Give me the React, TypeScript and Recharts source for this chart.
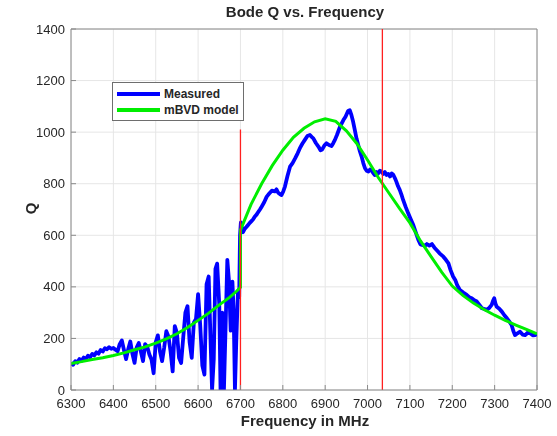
import { LineChart, Line, XAxis, YAxis, CartesianGrid, ReferenceLine } from "recharts";

// Measured Q (blue trace)
const measuredFreq = [
  6300, 6305, 6310, 6315, 6320, 6325, 6330, 6335, 6340, 6345, 6350, 6355, 6360, 6365, 6370, 6375, 6380, 6385, 6390, 6395,
  6400, 6405, 6410, 6415, 6420, 6425, 6430, 6435, 6440, 6445, 6450, 6455, 6460, 6465, 6470, 6475, 6480, 6485, 6490, 6495,
  6500, 6505, 6510, 6515, 6520, 6525, 6530, 6535, 6540, 6545, 6550, 6555, 6560, 6565, 6570, 6575, 6580, 6585, 6590, 6595,
  6600, 6605, 6610, 6615, 6620, 6625, 6630, 6633, 6637, 6641, 6645, 6650, 6653, 6657, 6661, 6665, 6669, 6673, 6677, 6681,
  6684, 6687, 6690, 6694, 6697, 6699, 6701, 6703, 6706, 6710, 6714, 6718, 6722, 6726, 6730, 6734, 6738, 6742, 6746, 6750,
  6756, 6762, 6768, 6774, 6781, 6785, 6789, 6793, 6797, 6801, 6805, 6811, 6817, 6823, 6829, 6835, 6840, 6846, 6852, 6858,
  6864, 6868, 6872, 6878, 6884, 6889, 6893, 6898, 6903, 6909, 6915, 6919, 6923, 6928, 6935, 6943, 6948, 6954, 6958, 6962,
  6966, 6970, 6974, 6978, 6982, 6986, 6990, 6994, 6998, 7002, 7006, 7009, 7013, 7017, 7021, 7025, 7029, 7033, 7037, 7041,
  7045, 7049, 7053, 7057, 7061, 7065, 7068, 7072, 7076, 7080, 7084, 7090, 7096, 7102, 7108, 7114, 7120, 7125, 7131, 7136,
  7140, 7146, 7152, 7158, 7163, 7170, 7179, 7185, 7191, 7196, 7202, 7207, 7212, 7218, 7226, 7234, 7240, 7246, 7252, 7258,
  7264, 7270, 7276, 7281, 7287, 7293, 7296, 7299, 7302, 7305, 7311, 7317, 7323, 7329, 7335, 7340, 7344, 7348, 7354, 7360,
  7366, 7372, 7378, 7384, 7390, 7396, 7400,
];
const measuredQ = [
  105, 98, 112, 106, 120, 113, 126, 119, 133, 127, 140, 134, 146, 141, 155, 149, 162, 158, 166, 160,
  163, 156, 150, 178, 192, 155, 120, 158, 188, 140, 105, 165, 182, 148, 112, 178, 168, 138, 118, 65,
  185, 212, 150, 112, 165, 228, 208, 150, 72, 248, 222, 125, 105, 205, 300, 325, 185, 125, 262, 275,
  372, 252, 95, 60, 410, 440, 160, 0, 120, 470, 490, 330, 0, 300, 0, 250, 505, 420, 230, 420,
  300, 0, 180, 380, 360, 600, 650, 627, 612, 625, 632, 640, 648, 655, 662, 673, 680, 690, 700, 711,
  728, 750, 762, 773, 770, 778, 765, 760, 756, 770, 789, 830, 866, 880, 898, 918, 937, 955, 970, 985,
  989, 982, 976, 958, 944, 930, 933, 948, 957, 950, 946, 957, 970, 990, 1021, 1047, 1060, 1082, 1085, 1066,
  1040, 1008, 975, 950, 925, 905, 880, 860, 850, 847, 855, 853, 842, 834, 845, 840, 850, 847, 838, 845,
  834, 838, 828, 840, 834, 820, 808, 790, 776, 758, 737, 710, 685, 662, 640, 610, 582, 565, 562, 560,
  566, 560, 566, 552, 543, 530, 517, 505, 491, 465, 440, 427, 405, 388, 378, 369, 360, 356, 348, 343,
  330, 317, 314, 310, 318, 330, 345, 356, 335, 323, 315, 304, 290, 278, 265, 252, 230, 213, 220, 226,
  215, 213, 222, 220, 212, 213, 218,
];

// mBVD model Q (green trace)
const modelFreq = [
  6300, 6325, 6350, 6375, 6400, 6425, 6450, 6475, 6500, 6525, 6550, 6575, 6600, 6625, 6650, 6675, 6690, 6700,
  6700, 6725, 6750, 6775, 6800, 6825, 6850, 6875, 6900, 6925, 6950, 6975, 7000, 7025, 7050, 7075, 7100,
  7125, 7150, 7175, 7200, 7225, 7250, 7275, 7300, 7325, 7350, 7375, 7400,
];
const modelQ = [
  103, 110, 118, 125, 134, 144, 156, 167, 182, 198, 218, 242, 270, 298, 330, 360, 382, 398,
  620, 720, 800, 870, 930, 980, 1015, 1040, 1052, 1042, 1005, 955, 892, 825, 765, 705, 648,
  578, 517, 457, 403, 367, 337, 312, 290, 270, 252, 235, 218,
];

const xTicks = [6300, 6400, 6500, 6600, 6700, 6800, 6900, 7000, 7100, 7200, 7300, 7400];
const yTicks = [0, 200, 400, 600, 800, 1000, 1200, 1400];

// red markers
const markerLeft = 6700;
const markerLeftTop = 1010;
const markerRight = 7035;

const measured = measuredFreq.map((f, i) => ({ f, q: measuredQ[i] }));
const model = modelFreq.map((f, i) => ({ f, q: modelQ[i] }));

const font = "'Liberation Sans', Arial, sans-serif";
const axisColor = "#8a8a8a";
const tickStyle = { fontSize: 13, fill: "#262626", fontFamily: font };

const legendItems = [
  { name: "Measured", color: "#0000ff" },
  { name: "mBVD model", color: "#00ee00" },
];

const LegendBox = () => (
  <div
    style={{
      position: "absolute",
      left: 112,
      top: 82,
      border: "1px solid #6e6e6e",
      background: "#fff",
      width: 132,
      height: 39,
      boxSizing: "border-box",
      padding: "3px 4px",
      fontFamily: font,
      fontWeight: "bold",
      fontSize: 12,
      color: "#262626",
      whiteSpace: "nowrap",
    }}
  >
    {legendItems.map((s) => (
      <div key={s.name} style={{ display: "flex", alignItems: "center", height: 16 }}>
        <div style={{ width: 43, height: 4, background: s.color, marginRight: 4 }} />
        <span>{s.name}</span>
      </div>
    ))}
  </div>
);

const labelStyle = {
  position: "absolute" as const,
  fontFamily: font,
  fontWeight: "bold" as const,
  fontSize: 15,
  color: "#262626",
};

const App = () => {
  return (
    <div style={{ position: "fixed", left: 0, top: 0, width: 557, height: 436, background: "#fff" }}>
      <div style={{ ...labelStyle, left: 0, width: 610, top: 3, textAlign: "center" }}>Bode Q vs. Frequency</div>
      <LineChart width={557} height={436} data={model} margin={{ top: 29, right: 20, bottom: 0, left: 0 }}>
        <CartesianGrid stroke="#e6e6e6" strokeWidth={1} />
        <XAxis
          type="number"
          dataKey="f"
          domain={[6300, 7400]}
          ticks={xTicks}
          interval={0}
          height={46}
          stroke={axisColor}
          tick={tickStyle}
          tickSize={-5}
          tickMargin={14}
          allowDataOverflow
        />
        <YAxis
          type="number"
          dataKey="q"
          domain={[0, 1400]}
          ticks={yTicks}
          interval={0}
          width={71}
          stroke={axisColor}
          tick={tickStyle}
          tickSize={-5}
          tickMargin={11}
          allowDataOverflow
        />
        <ReferenceLine y={1400} stroke={axisColor} />
        <ReferenceLine x={7400} stroke={axisColor} />
        <Line
          data={measured}
          dataKey="q"
          stroke="#0000ff"
          strokeWidth={3.8}
          dot={false}
          strokeLinejoin="round"
          isAnimationActive={false}
          name="Measured"
        />
        <Line
          data={model}
          dataKey="q"
          stroke="#00ee00"
          strokeWidth={3}
          dot={false}
          isAnimationActive={false}
          name="mBVD model"
        />
        <ReferenceLine
          segment={[{ x: markerLeft, y: 0 }, { x: markerLeft, y: markerLeftTop }]}
          stroke="#ff2020"
          strokeWidth={1.3}
        />
        <ReferenceLine x={markerRight} stroke="#ff2020" strokeWidth={1.3} />
      </LineChart>
      <LegendBox />
      <div style={{ ...labelStyle, left: 0, width: 610, top: 412, textAlign: "center" }}>Frequency in MHz</div>
      <div style={{ ...labelStyle, left: 25, top: 200, transform: "rotate(-90deg)" }}>Q</div>
    </div>
  );
};

export default App;
